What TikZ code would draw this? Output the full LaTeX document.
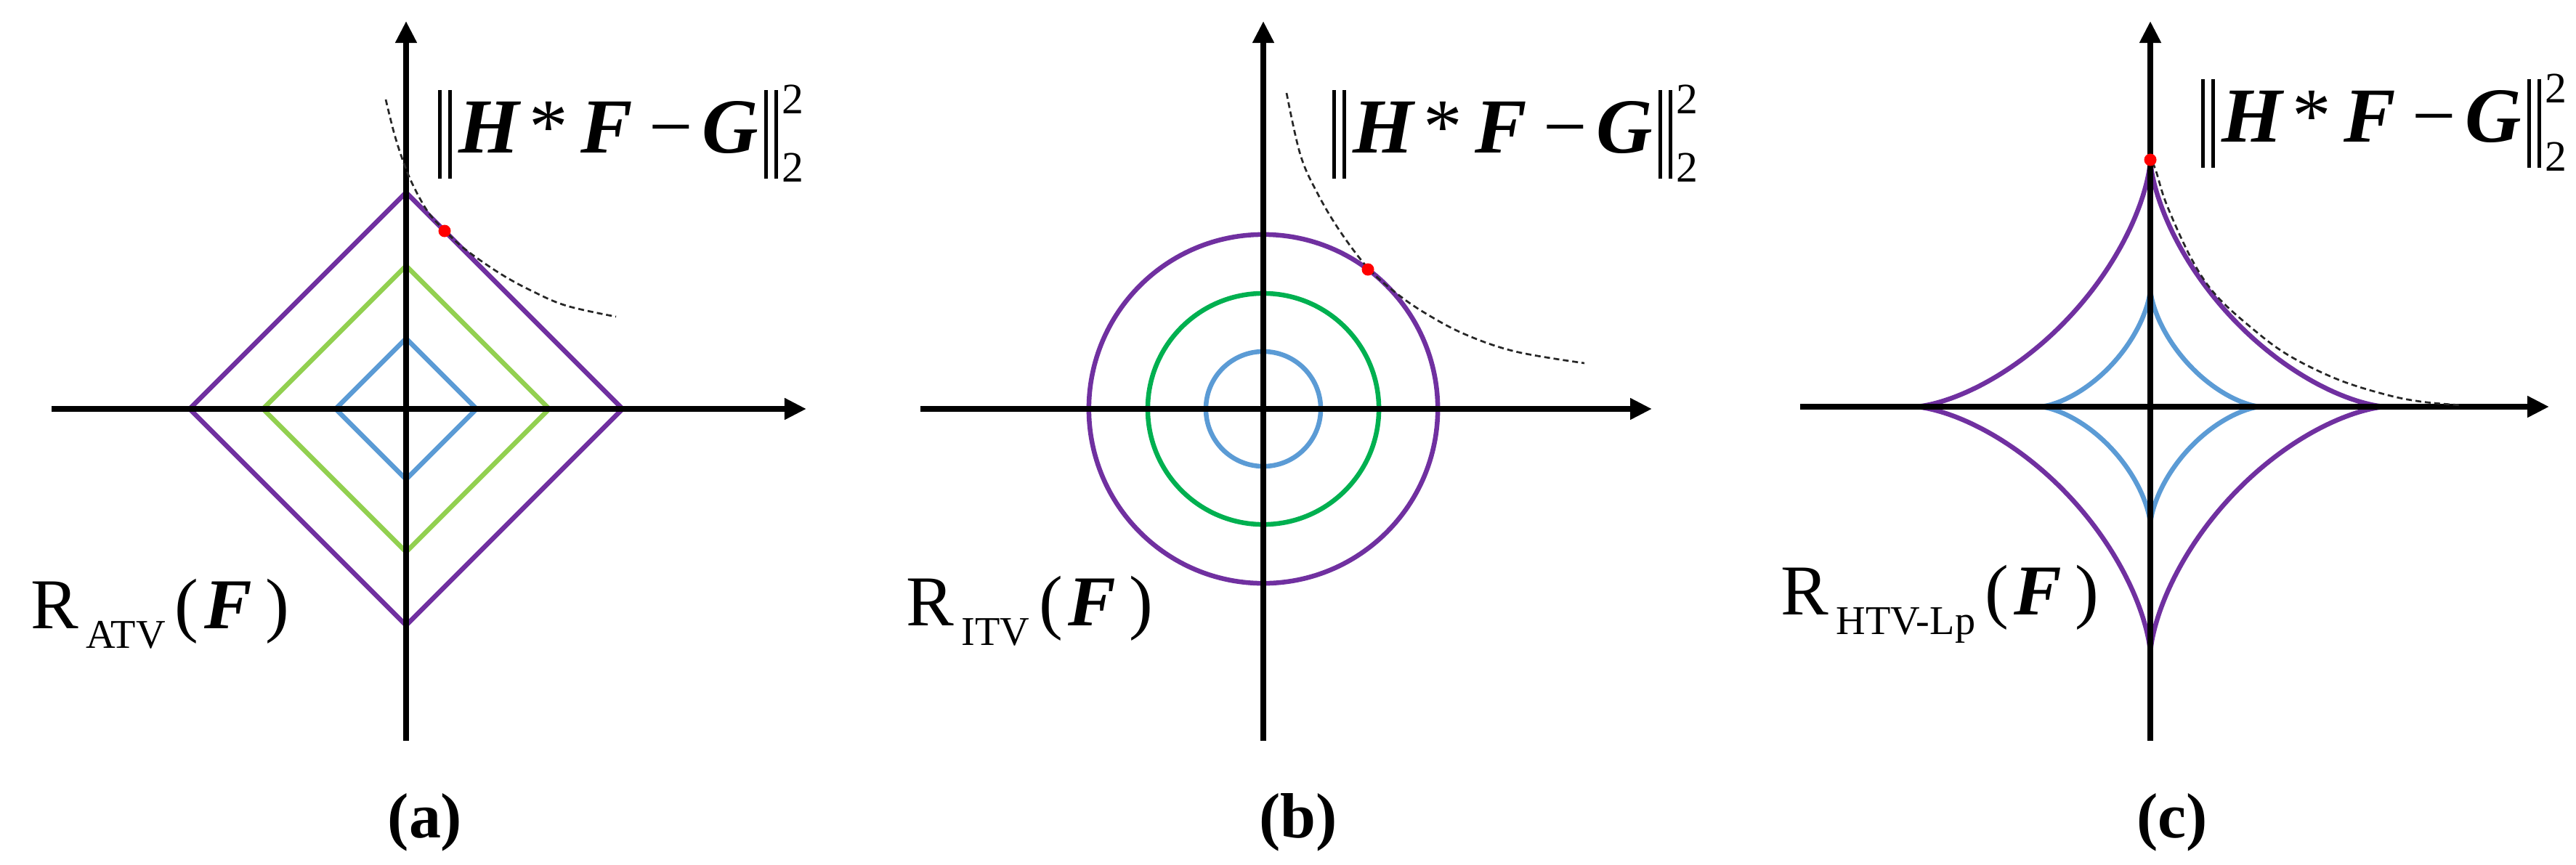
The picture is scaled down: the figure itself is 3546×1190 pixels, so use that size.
\documentclass[tikz,border=0pt]{standalone}
\usepackage{fontspec}
\setmainfont{Liberation Serif}
\newfontfamily\tnr{Liberation Serif}
\usetikzlibrary{arrows.meta}
\definecolor{cpurple}{HTML}{7030A0}
\definecolor{clgreen}{HTML}{92D050}
\definecolor{cgreen}{HTML}{00B050}
\definecolor{cblue}{HTML}{5B9BD5}
\newcommand{\bfit}[1]{{\tnr\bfseries\itshape #1}}
\newcommand{\normbars}{\rule[-0.36cm]{0.05cm}{1.22cm}\hspace{0.09cm}\rule[-0.36cm]{0.05cm}{1.22cm}}
\newcommand{\fidelity}{\normbars\hspace{0.1cm}\bfit{H}\hspace{0.13cm}*\hspace{0.18cm}\bfit{F}\hspace{0.22cm}−\hspace{0.13cm}\bfit{G}\hspace{0.08cm}\normbars\hspace{0.05cm}\rlap{\raisebox{0.53cm}{\fontsize{17}{17}\selectfont 2}}\raisebox{-0.4cm}{\fontsize{17}{17}\selectfont 2}}
\newcommand{\reglabel}[1]{R\hspace{0.1cm}\raisebox{-0.27cm}{\fontsize{16}{16}\selectfont #1}\hspace{0.13cm}(\hspace{0.08cm}\bfit{F}\hspace{0.18cm})}
\tikzset{
  axis/.style={line width=0.075cm, black, -{Triangle[length=0.3cm,width=0.28cm]}},
  axisplain/.style={line width=0.075cm, black},
  shapeline/.style={line width=0.065cm, line join=miter},
  dashcurve/.style={line width=0.027cm, black!85, dash pattern=on 0.08cm off 0.05cm},
  fid/.style={inner sep=0pt, anchor=base west, font=\tnr\fontsize{30.5}{31}\selectfont},
  reg/.style={inner sep=0pt, anchor=base west, font=\tnr\fontsize{28}{28}\selectfont},
  captext/.style={inner sep=0pt, anchor=base, font=\tnr\fontsize{25}{25}\selectfont\bfseries},
}
\begin{document}
\begin{tikzpicture}[x=0.01cm, y=-0.01cm]
\fill[white] (0,0) rectangle (3546,1190);
\useasboundingbox (0,0) rectangle (3546,1190);

% ---------------- panel (a) ----------------
\coordinate (aO) at (559,563);
\coordinate (aL) at (71,563);
\coordinate (aR) at (1110,563);
\coordinate (aT) at (559,29);
\coordinate (aB) at (559,1020);
\draw[shapeline, cpurple] (261,563) -- (559,265) -- (857,563) -- (559,861) -- cycle;
\draw[shapeline, clgreen] (362,563) -- (559,366) -- (756,563) -- (559,760) -- cycle;
\draw[shapeline, cblue] (462,563) -- (559,466) -- (656,563) -- (559,660) -- cycle;
\draw[axisplain] (aL) -- (aO);
\draw[axis] (aO) -- (aR);
\draw[axisplain] (aB) -- (aO);
\draw[axis] (aO) -- (aT);
\draw[dashcurve] plot[smooth, tension=0.6] coordinates {(531,137) (543,185) (556,225) (570,258) (590,293) (612,317) (640,343) (689,377) (733,401) (780,421) (848,436)};
\fill[red] (612,318) circle[radius=0.085cm];
\node[fid] (fa) at (602,210) {\fidelity};
\node[reg] (ra) at (42,865) {\reglabel{ATV}};
\node[captext] (capa) at (585,1153) {(a)};

% ---------------- panel (b) ----------------
\coordinate (bO) at (1739,563);
\coordinate (bL) at (1267,563);
\coordinate (bR) at (2274,563);
\coordinate (bT) at (1739,29);
\coordinate (bB) at (1739,1020);
\draw[shapeline, cpurple] (bO) circle[radius=2.4cm];
\draw[shapeline, cgreen] (bO) circle[radius=1.59cm];
\draw[shapeline, cblue] (bO) circle[radius=0.79cm];
\draw[axisplain] (bL) -- (bO);
\draw[axis] (bO) -- (bR);
\draw[axisplain] (bB) -- (bO);
\draw[axis] (bO) -- (bT);
\draw[dashcurve] plot[smooth, tension=0.6] coordinates {(1771,128) (1790,213) (1814,267) (1845,319) (1883,369) (1920,402) (1960,430) (2016,460) (2086,484) (2181,500)};
\fill[red] (1883,371) circle[radius=0.085cm];
\node[fid] (fb) at (1833,210) {\fidelity};
\node[reg] (rb) at (1247,861) {\reglabel{ITV}};
\node[captext] (capb) at (1787,1153) {(b)};

% ---------------- panel (c) ----------------
\coordinate (cO) at (2960,560);
\coordinate (cL) at (2478,560);
\coordinate (cR) at (3509,560);
\coordinate (cT) at (2960,29);
\coordinate (cB) at (2960,1020);
\draw[shapeline, cpurple] plot[domain=0:360, samples=361, variable=\t]
  ({2960+324*cos(\t)*cos(\t)*cos(\t)}, {560-340*sin(\t)*sin(\t)*sin(\t)}) -- cycle;
\draw[shapeline, cblue] plot[domain=0:360, samples=361, variable=\t]
  ({2960+152*cos(\t)*cos(\t)*cos(\t)}, {560-162*sin(\t)*sin(\t)*sin(\t)}) -- cycle;
\draw[axisplain] (cL) -- (cO);
\draw[axis] (cO) -- (cR);
\draw[axisplain] (cB) -- (cO);
\draw[axis] (cO) -- (cT);
\draw[dashcurve] plot[smooth, tension=0.6] coordinates {(2963,224) (2968,236) (2983,283) (3017,357) (3050,406) (3100,452) (3150,489) (3217,522) (3283,543) (3333,553) (3389,558)};
\fill[red] (2960,220) circle[radius=0.085cm];
\node[fid] (fc) at (3029,195) {\fidelity};
\node[reg] (rc) at (2451,846) {\reglabel{HTV-Lp}};
\node[captext] (capc) at (2990,1153) {(c)};
\end{tikzpicture}
\end{document}
